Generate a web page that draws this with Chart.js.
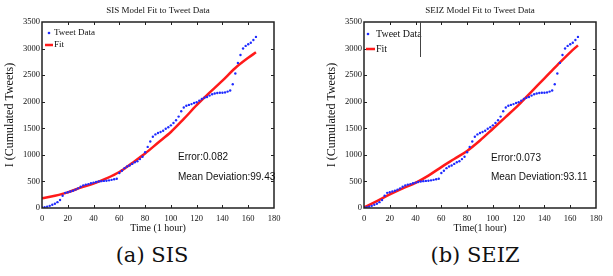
<!DOCTYPE html>
<html>
<head>
<meta charset="utf-8">
<script src="https://cdn.jsdelivr.net/npm/chart.js@4.4.1/dist/chart.umd.min.js"></script>
<style>
  body { margin: 0; background: #fff; width: 613px; height: 276px; position: relative; overflow: hidden; }
  canvas { position: absolute; top: 0; }
  #sis { left: 0; }
  #seiz { left: 322px; }
  .cap { position: absolute; top: 241px; font-family: "DejaVu Serif"; font-size: 21px; line-height: 28px; white-space: nowrap; transform: translateX(-50%); color: #111; }
</style>
</head>
<body>
<canvas id="sis" width="300" height="240"></canvas>
<canvas id="seiz" width="291" height="240"></canvas>
<div class="cap" style="left:152px">(a) SIS</div>
<div class="cap" style="left:475px">(b) SEIZ</div>
<script>
// tweet counts, read every 2 hours off the picture
const hours = [0,2,4,6,8,10,12,14,16,18,20,22,24,26,28,30,32,34,36,38,40,42,44,46,48,50,52,54,56,58,
  60,62,64,66,68,70,72,74,76,78,80,82,84,86,88,90,92,94,96,98,100,102,104,106,108,110,112,114,116,118,
  120,122,124,126,128,130,132,134,136,138,140,142,144,146,148,150,152,154,156,158,160,162,164,166];
const tweets = [10,15,25,40,60,80,110,150,230,285,295,310,325,345,370,400,425,440,450,465,
  478,490,500,505,510,514,520,530,540,550,
  660,700,750,780,800,830,860,880,920,965,1050,1150,1250,1340,1385,1410,1430,1455,1490,1520,
  1555,1600,1650,1720,1820,1890,1925,1940,1955,1975,
  1990,2020,2050,2075,2090,2115,2140,2155,2165,2170,2170,2175,2190,2210,2330,2530,2730,2880,3000,3050,
  3080,3110,3160,3220];

// model fits
const fitHours = [0,10,20,30,40,50,60,70,80,90,100,110,120,130,140,150,160,166];
const sisFit  = [182,231,294,383,460,557,678,848,1026,1228,1430,1676,1934,2170,2397,2635,2826,2930];
const seizFit = [10,130,255,370,475,610,770,922,1074,1270,1491,1715,1942,2192,2440,2690,2930,3060];

const xTicks = [0,20,40,60,80,100,120,140,160,180];
const yTicks = [0,500,1000,1500,2000,2500,3000,3500];

const BLUE = '#1f2bff';
const RED = '#ff1a1a';
const SERIF = 'Liberation Serif';
const AXIS = '#222';

function pts(xs, ys) {
  return xs.map((x, i) => ({ x: x, y: ys[i] }));
}

// box, inward ticks, title, legend and the error text, matlab style
const decor = {
  id: 'decor',
  afterDraw(chart, args, o) {
    const ctx = chart.ctx;
    const x = chart.scales.x, y = chart.scales.y;
    const L = Math.round(x.getPixelForValue(xTicks[0]));
    const R = Math.round(x.getPixelForValue(xTicks[xTicks.length - 1]));
    const B = Math.round(y.getPixelForValue(yTicks[0]));
    const T = Math.round(y.getPixelForValue(yTicks[yTicks.length - 1]));
    const W = R - L, H = B - T;
    ctx.save();

    // axes box
    ctx.strokeStyle = AXIS;
    ctx.lineWidth = 1.5;
    ctx.strokeRect(L, T, W, H);
    ctx.lineWidth = 1;
    ctx.beginPath();
    xTicks.slice(1, -1).forEach(v => {
      const px = Math.round(x.getPixelForValue(v)) + 0.5;
      ctx.moveTo(px, B); ctx.lineTo(px, B - 3);
      ctx.moveTo(px, T); ctx.lineTo(px, T + 3);
    });
    yTicks.slice(1, -1).forEach(v => {
      const py = Math.round(y.getPixelForValue(v)) + 0.5;
      ctx.moveTo(L, py); ctx.lineTo(L + 3, py);
      ctx.moveTo(R, py); ctx.lineTo(R - 3, py);
    });
    ctx.stroke();

    // title
    ctx.fillStyle = '#111';
    ctx.font = '9px "' + SERIF + '"';
    ctx.textAlign = 'center';
    ctx.textBaseline = 'middle';
    ctx.fillText(o.title, L + W / 2, 11);

    // legend
    const lg = o.legend;
    ctx.textAlign = 'left';
    ctx.font = lg.size + 'px "' + SERIF + '"';
    ctx.fillStyle = BLUE;
    ctx.beginPath();
    ctx.arc(L + lg.dot, T + lg.row1, 1.3, 0, Math.PI * 2);
    ctx.fill();
    ctx.strokeStyle = RED;
    ctx.lineWidth = 2.5;
    ctx.beginPath();
    ctx.moveTo(L + lg.line[0], T + lg.row2);
    ctx.lineTo(L + lg.line[1], T + lg.row2);
    ctx.stroke();
    ctx.fillStyle = '#111';
    ctx.fillText('Tweet Data', L + lg.text, T + lg.row1);
    ctx.fillText('Fit', L + lg.text, T + lg.row2);
    if (lg.box) {
      ctx.fillStyle = '#444';
      ctx.fillRect(L + lg.box, T, 1, 35);
    }

    // fit quality text
    ctx.fillStyle = '#111';
    ctx.font = '10px "Liberation Sans"';
    const tx = x.getPixelForValue(o.note.x);
    ctx.fillText(o.note.err, tx, y.getPixelForValue(o.note.y1));
    ctx.fillText(o.note.dev, tx, y.getPixelForValue(o.note.y2));
    ctx.restore();
  }
};

function makeChart(id, fit, o) {
  new Chart(document.getElementById(id), {
    type: 'scatter',
    data: {
      datasets: [
        {
          label: 'Tweet Data',
          data: pts(hours, tweets),
          pointRadius: 1.2,
          pointBorderWidth: 0,
          pointBackgroundColor: BLUE,
          showLine: false
        },
        {
          label: 'Fit',
          data: pts(fitHours, fit),
          showLine: true,
          pointRadius: 0,
          borderColor: RED,
          borderWidth: 2.5,
          tension: 0.4,
          cubicInterpolationMode: 'monotone'
        }
      ]
    },
    options: {
      responsive: false,
      animation: false,
      layout: { padding: { top: 22, right: o.padRight, left: 0, bottom: 0 } },
      plugins: {
        legend: { display: false },
        tooltip: { enabled: false },
        decor: o
      },
      scales: {
        x: {
          min: 0, max: 180,
          grid: { display: false, drawTicks: false },
          border: { display: false },
          afterFit: s => { s.height = 32; },
          afterBuildTicks: s => { s.ticks = xTicks.map(v => ({ value: v })); },
          ticks: { color: '#111', padding: 6, maxRotation: 0, font: { family: SERIF, size: 8.5 }, callback: v => String(v) },
          title: { display: true, text: o.xTitle, color: '#111', font: { family: SERIF, size: 10 }, padding: { top: 0, bottom: 6 } }
        },
        y: {
          min: 0, max: 3500,
          grid: { display: false, drawTicks: false },
          border: { display: false },
          afterFit: s => { s.width = 42; },
          afterBuildTicks: s => { s.ticks = yTicks.map(v => ({ value: v })); },
          ticks: { color: '#111', padding: 2, font: { family: SERIF, size: 8.5 }, callback: v => String(v) },
          title: { display: true, text: 'I (Cumulated Tweets)', color: '#111', font: { family: SERIF, size: 12 }, padding: { top: 3, bottom: 0 } }
        }
      }
    },
    plugins: [decor]
  });
}

makeChart('sis', sisFit, {
  title: 'SIS Model Fit to Tweet Data',
  xTitle: 'Time (1 hour)',
  padRight: 26,
  legend: { size: 9, dot: 7, line: [3, 11], text: 12, row1: 11, row2: 23, box: 0 },
  note: { x: 105.5, y1: 960, y2: 583, err: 'Error:0.082', dev: 'Mean Deviation:99.43' }
});

makeChart('seiz', seizFit, {
  title: 'SEIZ Model Fit to Tweet Data',
  xTitle: 'Time(1 hour)',
  padRight: 17,
  legend: { size: 10, dot: 4, line: [2, 11], text: 12, row1: 12, row2: 27, box: 56 },
  note: { x: 98.5, y1: 940, y2: 583, err: 'Error:0.073', dev: 'Mean Deviation:93.11' }
});
</script>
</body>
</html>
